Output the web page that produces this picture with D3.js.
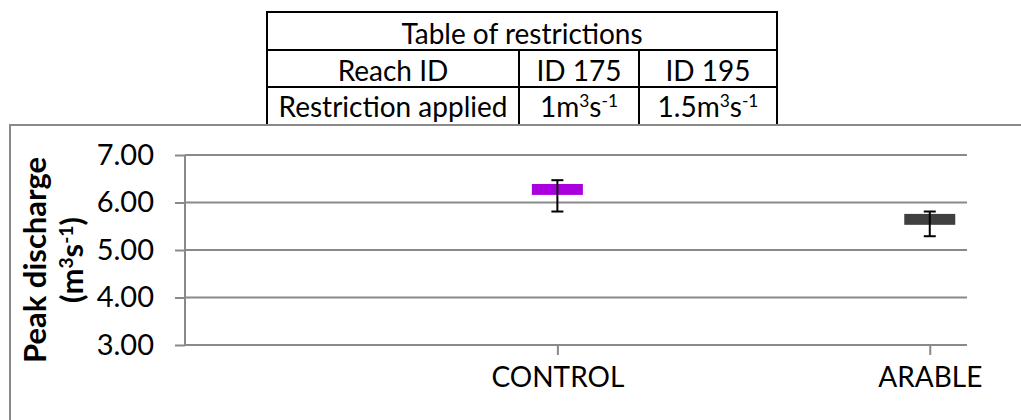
<!DOCTYPE html>
<html>
<head>
<meta charset="utf-8">
<script src="https://cdn.jsdelivr.net/npm/d3@7"></script>
<style>
  body { margin: 0; background: #fff; }
  svg text { font-family: Lato, "Liberation Sans", sans-serif; fill: #000; }
</style>
</head>
<body>
<div id="chart"></div>
<script>
// chart values
var categories = ["CONTROL", "ARABLE"];
var catPos = [1, 2];
var boxLow = [6.16, 5.53];
var boxHigh = [6.39, 5.76];
var errLow = [5.81, 5.29];
var errHigh = [6.47, 5.81];
var boxColors = ["#aa00dd", "#404040"];
var yTicks = [3, 4, 5, 6, 7];

// table of restrictions
var tableTitle = "Table of restrictions";
var tableHeader = ["Reach ID", "ID 175", "ID 195"];
// each cell: list of [text, superscript] pairs
var tableRow = [
  [["Restriction applied", ""]],
  [["1m", "3"], ["s", "-1"]],
  [["1.5m", "3"], ["s", "-1"]]
];
var yTitle = "Peak discharge";
var yUnit = [["(m", "3"], ["s", "-1"], [")", ""]];

var width = 1021, height = 420;
var fs = 28;

var svg = d3.select("#chart").append("svg")
    .attr("width", width)
    .attr("height", height);

// writes [text, sup] pairs into a text element, lifting the superscripts
function supText(sel, parts, size) {
  var raised = false;
  parts.forEach(function(p) {
    sel.append("tspan").attr("dy", raised ? 10 : null).text(p[0]);
    raised = false;
    if (p[1]) {
      sel.append("tspan").attr("dy", -10).attr("font-size", size * 0.62).text(p[1]);
      raised = true;
    }
  });
}

// ---- table ----
var tx = [267, 519, 639, 777],
    ty = [12, 50, 87, 126];

var table = svg.append("g");

table.append("rect")
    .attr("x", tx[0]).attr("y", ty[0])
    .attr("width", tx[3] - tx[0]).attr("height", ty[3] - ty[0])
    .attr("fill", "#fff").attr("stroke", "#000").attr("stroke-width", 2);

[ty[1], ty[2]].forEach(function(y) {
  table.append("line")
      .attr("x1", tx[0]).attr("x2", tx[3]).attr("y1", y).attr("y2", y)
      .attr("stroke", "#000").attr("stroke-width", 2);
});
[tx[1], tx[2]].forEach(function(x) {
  table.append("line")
      .attr("x1", x).attr("x2", x).attr("y1", ty[1]).attr("y2", ty[3])
      .attr("stroke", "#000").attr("stroke-width", 2);
});

table.append("text")
    .attr("x", (tx[0] + tx[3]) / 2).attr("y", 44)
    .attr("text-anchor", "middle").attr("font-size", fs)
    .text(tableTitle);

tableHeader.forEach(function(t, i) {
  table.append("text")
      .attr("x", (tx[i] + tx[i + 1]) / 2).attr("y", 81)
      .attr("text-anchor", "middle").attr("font-size", fs)
      .text(t);
});

tableRow.forEach(function(parts, i) {
  var txt = table.append("text")
      .attr("x", (tx[i] + tx[i + 1]) / 2).attr("y", 117)
      .attr("text-anchor", "middle").attr("font-size", fs);
  supText(txt, parts, fs);
});

// ---- chart area ----
svg.append("rect")
    .attr("x", 10).attr("y", 125)
    .attr("width", 1100).attr("height", 400)
    .attr("fill", "#fff").attr("stroke", "#898989").attr("stroke-width", 2);

var x = d3.scaleLinear().domain([0, 2.1]).range([185, 967]);
var y = d3.scaleLinear().domain([3, 7]).range([345, 155]);

var plot = svg.append("g");

// gridlines
plot.selectAll(".grid")
    .data(yTicks.slice(1))
    .enter().append("line")
    .attr("x1", x(0)).attr("x2", x(2.1))
    .attr("y1", function(d) { return y(d); })
    .attr("y2", function(d) { return y(d); })
    .attr("stroke", "#898989").attr("stroke-width", 2);

// y axis
var yAxis = plot.append("g")
    .attr("transform", "translate(" + x(0) + ",0)")
    .call(d3.axisLeft(y).tickValues(yTicks).tickSize(10).tickPadding(21)
      .tickFormat(d3.format(".2f")));
yAxis.selectAll("path, line").attr("stroke", "#898989").attr("stroke-width", 2);
yAxis.select(".domain").attr("d", "M0," + y(3) + "V" + y(7));
yAxis.selectAll("text").attr("font-size", fs + 1).attr("font-family", null).attr("fill", "#000");

// x axis
var xAxis = plot.append("g")
    .attr("transform", "translate(0," + y(3) + ")")
    .call(d3.axisBottom(x).tickValues(catPos).tickSize(10).tickPadding(12)
      .tickFormat(function(d, i) { return categories[i]; }));
xAxis.selectAll("path, line").attr("stroke", "#898989").attr("stroke-width", 2);
xAxis.select(".domain").attr("d", "M" + x(0) + ",0H" + x(2.1));
xAxis.selectAll("text").attr("font-size", fs).attr("font-family", null).attr("fill", "#000");

// boxes
var boxW = 51, capW = 12;
plot.selectAll(".box")
    .data(catPos)
    .enter().append("rect")
    .attr("x", function(d) { return x(d) - boxW / 2; })
    .attr("y", function(d, i) { return y(boxHigh[i]); })
    .attr("width", boxW)
    .attr("height", function(d, i) { return y(boxLow[i]) - y(boxHigh[i]); })
    .attr("fill", function(d, i) { return boxColors[i]; });

// error bars
var err = plot.selectAll(".err")
    .data(catPos)
    .enter().append("g");
err.append("line")
    .attr("x1", function(d) { return x(d); })
    .attr("x2", function(d) { return x(d); })
    .attr("y1", function(d, i) { return y(errHigh[i]); })
    .attr("y2", function(d, i) { return y(errLow[i]); })
    .attr("stroke", "#000").attr("stroke-width", 2);
[errHigh, errLow].forEach(function(vals) {
  err.append("line")
      .attr("x1", function(d) { return x(d) - capW / 2; })
      .attr("x2", function(d) { return x(d) + capW / 2; })
      .attr("y1", function(d, i) { return y(vals[i]); })
      .attr("y2", function(d, i) { return y(vals[i]); })
      .attr("stroke", "#000").attr("stroke-width", 2);
});

// y axis title
var tfs = 31;
var title = svg.append("g")
    .attr("transform", "translate(46,260) rotate(-90)");
title.append("text")
    .attr("text-anchor", "middle").attr("font-size", tfs).attr("font-weight", "bold")
    .text(yTitle);
var t2 = title.append("text")
    .attr("y", 37)
    .attr("text-anchor", "middle").attr("font-size", tfs).attr("font-weight", "bold");
supText(t2, yUnit, tfs);
</script>
</body>
</html>
